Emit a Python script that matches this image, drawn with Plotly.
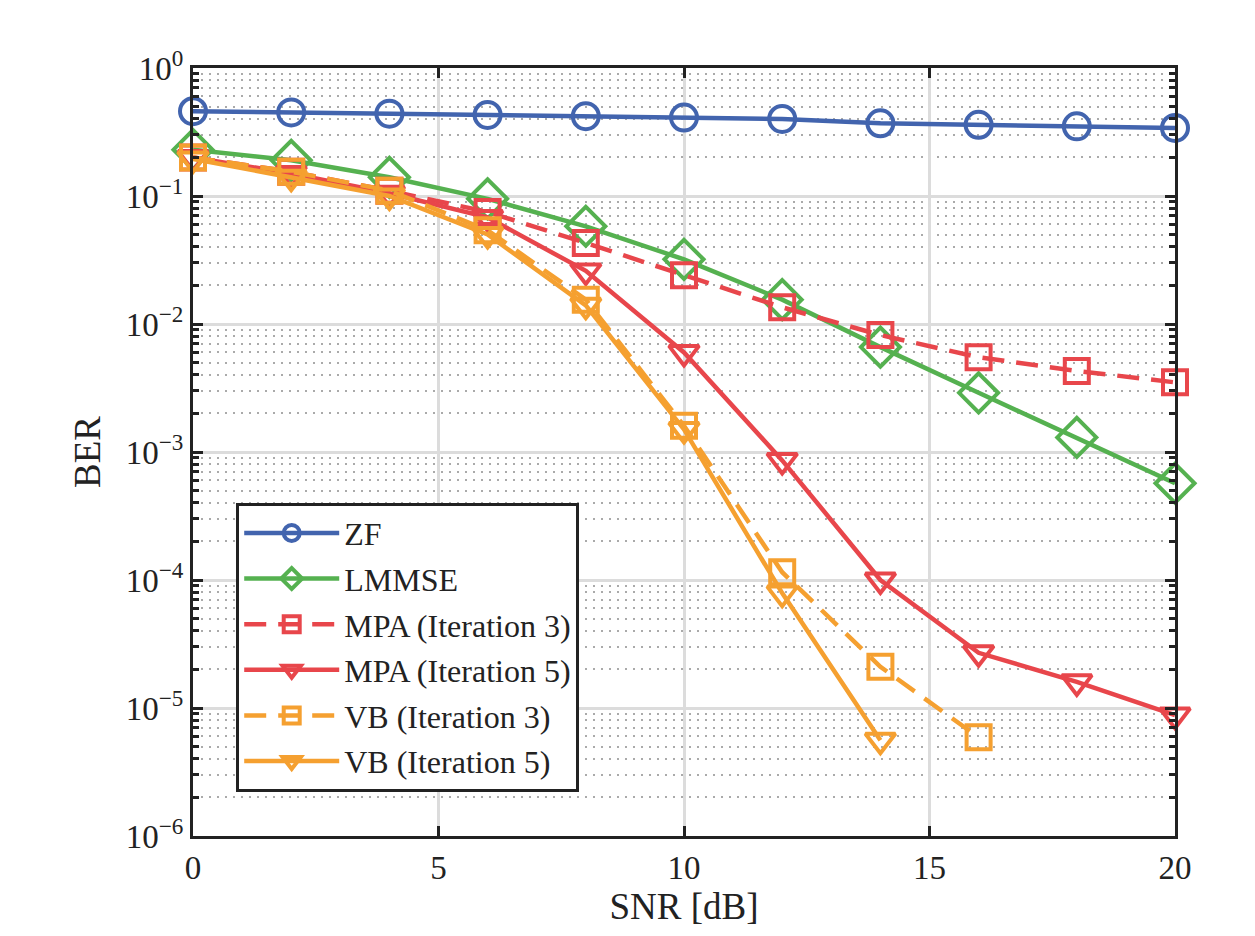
import plotly.graph_objects as go

snr = [0, 2, 4, 6, 8, 10, 12, 14, 16, 18, 20]
snr_vb3 = [0, 2, 4, 6, 8, 10, 12, 14, 16]
snr_vb5 = [0, 2, 4, 6, 8, 10, 12, 14]

ber_zf = [0.46, 0.45, 0.44, 0.43, 0.42, 0.41, 0.40, 0.37, 0.36, 0.35, 0.34]
ber_lmmse = [0.23, 0.19, 0.14, 0.095, 0.058, 0.032, 0.0155, 0.0066, 0.0029, 0.0013, 0.00057]
ber_mpa3 = [0.2, 0.155, 0.11, 0.075, 0.043, 0.024, 0.0135, 0.0082, 0.0055, 0.0043, 0.0035]
ber_mpa5 = [0.2, 0.15, 0.105, 0.068, 0.026, 0.006, 0.00086, 0.0001, 2.7e-5, 1.6e-5, 8.8e-6]
ber_vb3 = [0.2, 0.155, 0.11, 0.054, 0.0155, 0.0016, 0.000115, 2.1e-5, 5.9e-6]
ber_vb5 = [0.195, 0.14, 0.1, 0.05, 0.014, 0.0015, 7.9e-5, 5.6e-6]

names = ["ZF", "LMMSE", "MPA (Iteration 3)", "MPA (Iteration 5)", "VB (Iteration 3)", "VB (Iteration 5)"]

BLUE = "#4264AE"
GREEN = "#55B150"
RED = "#E8464B"
ORANGE = "#F5A030"

series = [
    (snr, ber_zf, names[0], BLUE, "circle-open", 26, "solid"),
    (snr, ber_lmmse, names[1], GREEN, "diamond-open", 30, "solid"),
    (snr, ber_mpa3, names[2], RED, "square-open", 24, "22px,12px"),
    (snr, ber_mpa5, names[3], RED, "triangle-down-open", 26, "solid"),
    (snr_vb3, ber_vb3, names[4], ORANGE, "square-open", 24, "22px,12px"),
    (snr_vb5, ber_vb5, names[5], ORANGE, "triangle-down-open", 26, "solid"),
]

fig = go.Figure()
for i, (x, y, nm, col, sym, sz, dash) in enumerate(series):
    fig.add_trace(go.Scatter(
        x=x, y=y, name=nm, mode="lines+markers",
        line=dict(color=col, width=4.5, dash=dash),
        marker=dict(symbol=sym, size=sz, color=col, line=dict(color=col, width=4)),
        legendgroup=str(i), cliponaxis=False,
    ))

FONT = "'Liberation Serif', 'Times New Roman', serif"
ytickvals = [10.0 ** k for k in range(-6, 1)]
yticktext = ["10<sup>%s</sup>" % (str(k).replace("-", "\u2212")) for k in range(-6, 1)]

fig.update_layout(
    width=1255, height=936,
    margin=dict(l=185, r=88, t=60, b=108),
    paper_bgcolor="white", plot_bgcolor="white",
    font=dict(family=FONT, size=30, color="#222222"),
    showlegend=True,
    legend=dict(
        x=0.044, y=0.434, xanchor="left", yanchor="top",
        bgcolor="white", bordercolor="#222222", borderwidth=3,
        font=dict(family=FONT, size=32, color="#222222"),
        tracegroupgap=1, itemwidth=95,
    ),
    xaxis=dict(
        range=[0, 20], tickvals=[0, 5, 10, 15, 20],
        showgrid=True, gridcolor="#DCDCDC", gridwidth=2.5,
        ticks="inside", ticklen=10, tickwidth=2.5, tickcolor="#222222",
        showline=True, linecolor="#222222", linewidth=3, mirror="ticks",
        zeroline=False,
        title=dict(text="SNR [dB]", font=dict(family=FONT, size=37), standoff=2),
        tickfont=dict(family=FONT, size=33),
    ),
    yaxis=dict(
        type="log", range=[-6, 0], tickvals=ytickvals, ticktext=yticktext,
        showgrid=True, gridcolor="#DCDCDC", gridwidth=3,
        ticks="inside", ticklen=10, tickwidth=2.5, tickcolor="#222222",
        showline=True, linecolor="#222222", linewidth=3, mirror="ticks",
        zeroline=False,
        minor=dict(dtick="D1", showgrid=True, gridcolor="#AAAAAA", griddash="2px,6px",
                   gridwidth=2, ticks="inside", ticklen=6, tickcolor="#222222"),
        title=dict(text="BER", font=dict(family=FONT, size=37), standoff=14),
        tickfont=dict(family=FONT, size=33),
    ),
)

fig.write_html("out.html")
